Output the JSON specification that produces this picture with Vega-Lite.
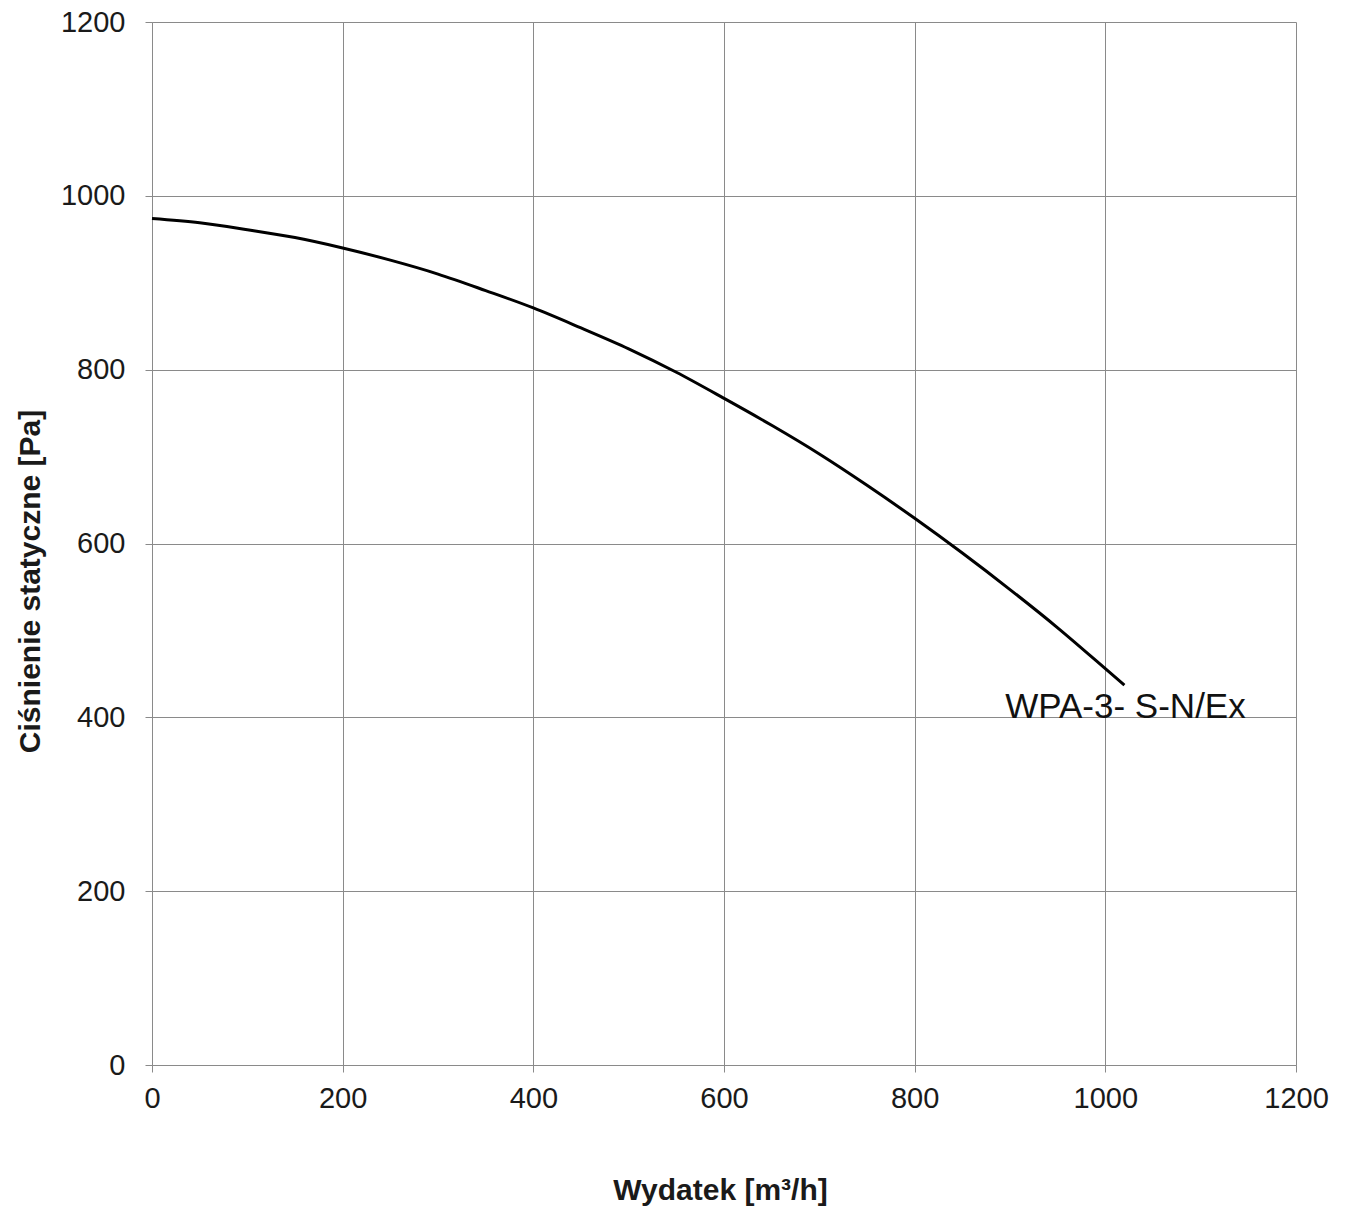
{
  "$schema": "https://vega.github.io/schema/vega-lite/v6.json",
  "autosize": "none",
  "width": 1144,
  "height": 1043,
  "padding": {"left": 152, "top": 22, "right": 53, "bottom": 144},
  "background": "white",
  "config": {
    "font": "Liberation Sans",
    "view": {"stroke": null},
    "axis": {
      "grid": true,
      "gridColor": "#8a8a8a",
      "gridWidth": 1,
      "domainColor": "#8a8a8a",
      "tickColor": "#8a8a8a",
      "tickSize": 7,
      "labelFont": "Liberation Sans",
      "labelFontSize": 29,
      "labelColor": "#1a1a1a",
      "titleFont": "Liberation Sans",
      "titleFontSize": 30,
      "titleFontWeight": "bold",
      "titleColor": "#1a1a1a"
    }
  },
  "datasets": {
    "curve": [
      {"q": 0, "p": 974},
      {"q": 50, "p": 969},
      {"q": 100, "p": 961},
      {"q": 150, "p": 952},
      {"q": 200, "p": 940},
      {"q": 250, "p": 926},
      {"q": 300, "p": 910},
      {"q": 350, "p": 891},
      {"q": 400, "p": 871},
      {"q": 450, "p": 848},
      {"q": 500, "p": 824},
      {"q": 550, "p": 797},
      {"q": 600, "p": 767},
      {"q": 650, "p": 736},
      {"q": 700, "p": 703},
      {"q": 750, "p": 667},
      {"q": 800, "p": 629},
      {"q": 850, "p": 589},
      {"q": 900, "p": 547},
      {"q": 950, "p": 503},
      {"q": 1000, "p": 456},
      {"q": 1020, "p": 437}
    ],
    "labels": [
      {"q": 895, "p": 412, "label": "WPA-3- S-N/Ex"}
    ]
  },
  "layer": [
    {
      "data": {"name": "curve"},
      "mark": {"type": "line", "color": "black", "strokeWidth": 3, "interpolate": "monotone"},
      "encoding": {
        "x": {
          "field": "q", "type": "quantitative",
          "scale": {"domain": [0, 1200], "nice": false, "zero": true},
          "axis": {
            "values": [0, 200, 400, 600, 800, 1000, 1200],
            "format": "d",
            "labelFlush": false,
            "title": "Wydatek [m³/h]",
            "labelPadding": 12,
            "titleX": 568, "titleY": 125,
            "titleAnchor": null, "titleAlign": "center", "titleBaseline": "middle"
          }
        },
        "y": {
          "field": "p", "type": "quantitative",
          "scale": {"domain": [0, 1200], "nice": false},
          "axis": {
            "values": [0, 200, 400, 600, 800, 1000, 1200],
            "format": "d",
            "labelFlush": false,
            "title": "Ciśnienie statyczne [Pa]",
            "labelPadding": 20,
            "titleX": -122, "titleY": 559,
            "titleAngle": -90, "titleAlign": "center", "titleBaseline": "middle"
          }
        }
      }
    },
    {
      "data": {"name": "labels"},
      "mark": {"type": "text", "align": "left", "baseline": "middle", "fontSize": 35, "font": "Liberation Sans", "color": "#111"},
      "encoding": {
        "x": {"field": "q", "type": "quantitative"},
        "y": {"field": "p", "type": "quantitative"},
        "text": {"field": "label"}
      }
    }
  ]
}
